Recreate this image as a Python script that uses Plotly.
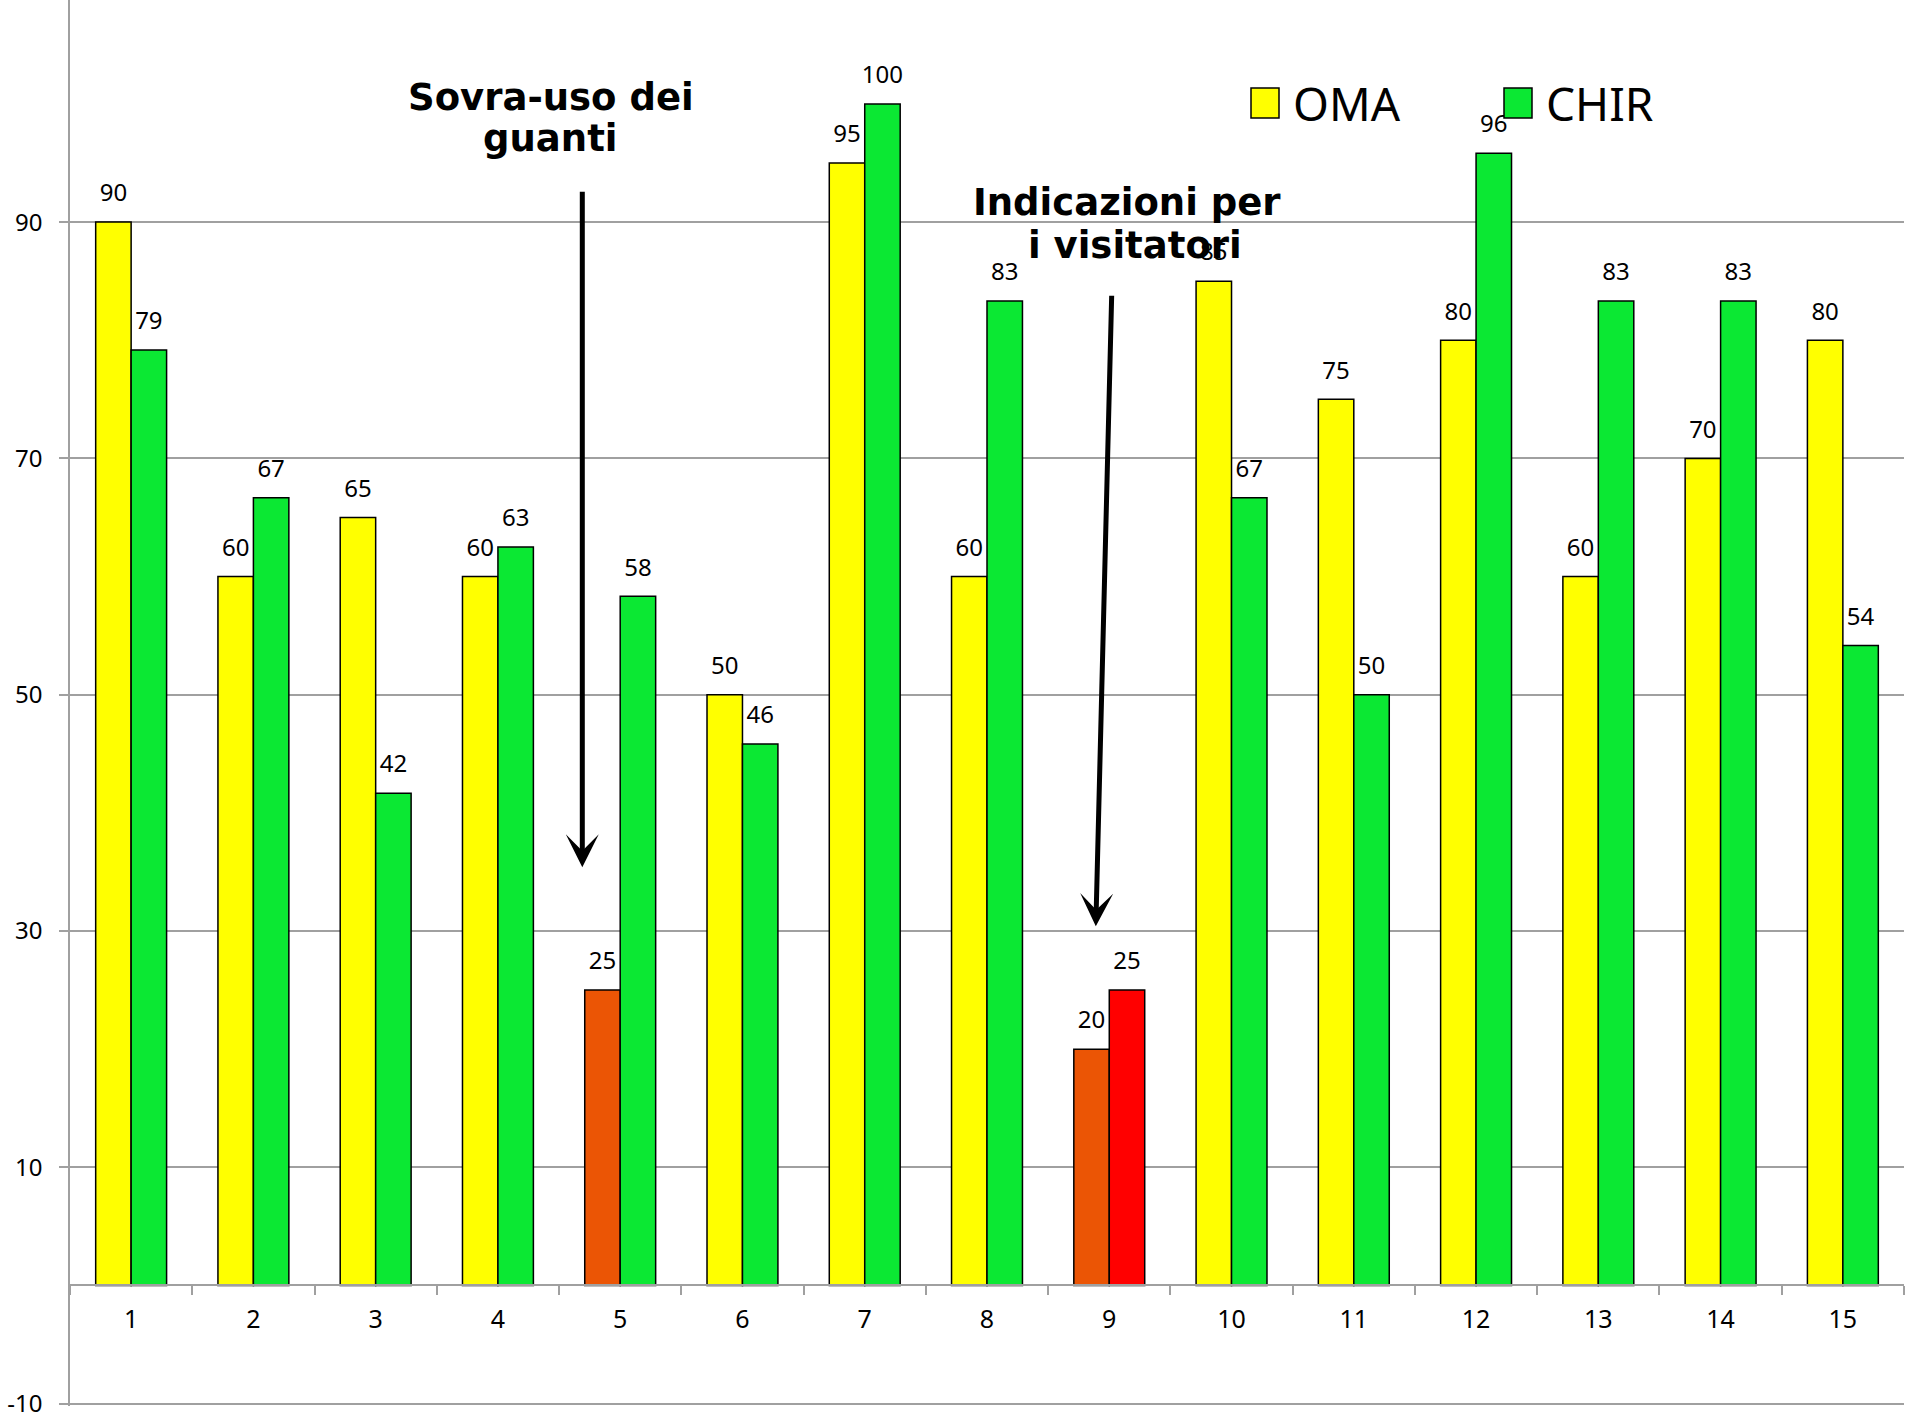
import plotly.graph_objects as go

# ---- data ----
categories = [str(i) for i in range(1, 16)]
oma = [90, 60, 65, 60, 25, 50, 95, 60, 20, 85, 75, 80, 60, 70, 80]
chir = [79.17, 66.67, 41.67, 62.5, 58.33, 45.83, 100, 83.33, 25, 66.67, 50, 95.83, 83.33, 83.33, 54.17]
y_ticks = [-10, 10, 30, 50, 70, 90]
y_tick_labels = ["-10", "10", "30", "50", "70", "90"]

# ---- styles ----
YELLOW = "#FFFF00"
GREEN = "#0BE833"
ORANGE = "#EB5505"
RED = "#FF0000"
GRID = "#A0A0A0"
oma_highlight = {"5": ORANGE, "9": ORANGE}
chir_highlight = {"9": RED}
oma_colors = [oma_highlight.get(c, YELLOW) for c in categories]
chir_colors = [chir_highlight.get(c, GREEN) for c in categories]

FONT = "Noto Sans, Liberation Sans, sans-serif"
YMIN, YMAX = -10.2, 108.8
GAP = 0.42

fig = go.Figure()
series = [("OMA", oma, oma_colors), ("CHIR", chir, chir_colors)]
for name, vals, cols in series:
    fig.add_trace(go.Bar(
        x=categories, y=vals, name=name, offsetgroup=name,
        marker=dict(color=cols, line=dict(color="black", width=1.5)),
    ))
# value labels (grouped scatter text so they sit a little higher above the bars)
for name, vals, cols in series:
    fig.add_trace(go.Scatter(
        x=categories, y=vals, name=name + " labels", offsetgroup=name,
        mode="markers+text", marker=dict(size=22, opacity=0),
        texttemplate="%{y:.0f}", textposition="top center",
        textfont=dict(family=FONT, size=24, color="black"), cliponaxis=False,
        hoverinfo="skip", showlegend=False,
    ))

W, H = 1905, 1420
ML, MR, MT, MB = 70, 1, 0, 14

fig.update_layout(
    width=W, height=H,
    margin=dict(l=ML, r=MR, t=MT, b=MB, pad=0, autoexpand=False),
    plot_bgcolor="white", paper_bgcolor="white",
    barmode="group", bargap=GAP, bargroupgap=0,
    scattermode="group", scattergap=GAP,
    showlegend=False,
    font=dict(family=FONT, color="black"),
    xaxis=dict(
        type="category", range=[-0.5, 14.5], automargin=False,
        anchor="free", position=(0 - YMIN) / (YMAX - YMIN),
        showline=True, linecolor=GRID, linewidth=1.5,
        ticks="outside", tickson="boundaries", ticklen=9, tickcolor=GRID, tickwidth=1.5,
        ticklabelstandoff=12,
        tickfont=dict(family=FONT, size=25, color="black"),
        showgrid=False, zeroline=False,
    ),
    yaxis=dict(
        range=[YMIN, YMAX], tickvals=y_ticks, ticktext=y_tick_labels, automargin=False,
        showline=True, linecolor=GRID, linewidth=1.5,
        ticks="outside", ticklen=9, tickcolor=GRID, tickwidth=1.5,
        ticklabelstandoff=12, ticklabeloverflow="allow",
        tickfont=dict(family=FONT, size=24, color="black"),
        showgrid=True, gridcolor=GRID, gridwidth=1.5, zeroline=False,
    ),
)

def px_x(p):
    return (p - ML) / (W - ML - MR)

def px_y(p):
    return (H - MB - p) / (H - MB - MT)

# callout texts (one annotation per line to keep the tight line spacing)
NOTE_FONT = dict(family="DejaVu Sans, sans-serif", size=37, color="black", weight="bold")
note_lines = [
    ("Sovra-uso dei", 551, 97),
    ("guanti", 550, 138),
    ("Indicazioni per", 1127, 203),
    ("i visitatori", 1135, 245),
]
for txt, cx, cy in note_lines:
    fig.add_annotation(xref="paper", yref="paper", x=px_x(cx), y=px_y(cy), text=txt,
                       showarrow=False, font=NOTE_FONT, xanchor="center", yanchor="middle")

# arrows
fig.add_annotation(x=3.69, y=35.4, ax=3.69, ay=92.7, xref="x", yref="y", axref="x", ayref="y",
                   text="", showarrow=True, arrowhead=3, arrowsize=1.1, arrowwidth=5, arrowcolor="black")
fig.add_annotation(x=7.89, y=30.4, ax=8.02, ay=83.9, xref="x", yref="y", axref="x", ayref="y",
                   text="", showarrow=True, arrowhead=3, arrowsize=1.1, arrowwidth=5, arrowcolor="black")

# custom legend (large swatches)
legend_items = [("OMA", YELLOW, 1251), ("CHIR", GREEN, 1504)]
for name, col, left in legend_items:
    fig.add_shape(type="rect", xref="paper", yref="paper",
                  x0=px_x(left), x1=px_x(left + 28), y0=px_y(118), y1=px_y(88),
                  fillcolor=col, line=dict(color="black", width=1.5))
    fig.add_annotation(xref="paper", yref="paper", x=px_x(left + 40), y=px_y(103),
                       text=name, showarrow=False, xanchor="left", yanchor="middle",
                       font=dict(family=FONT, size=46, color="black"))

fig.write_html("out.html", config={"displayModeBar": False},
               post_script="document.body.style.margin='0';")
